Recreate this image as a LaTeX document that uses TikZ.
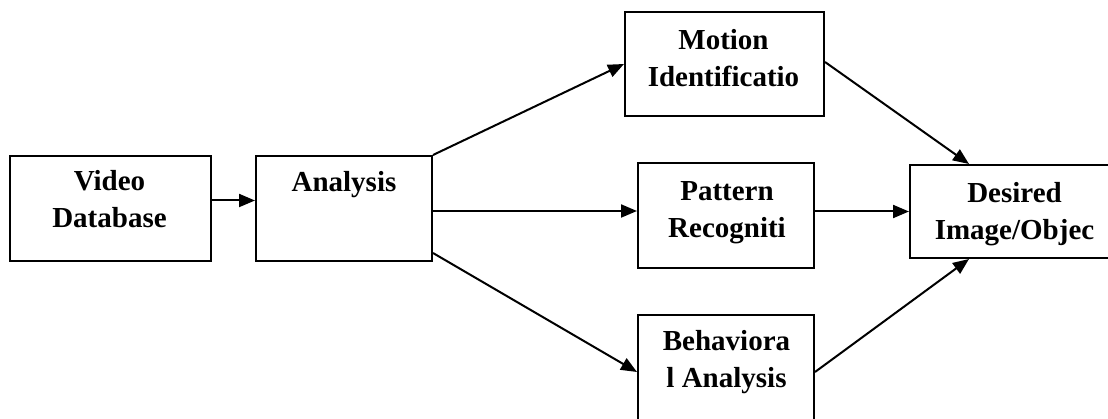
\documentclass[tikz,border=0pt]{standalone}
\usepackage{fontspec}
\setmainfont{Liberation Serif}
\usetikzlibrary{arrows.meta}
\tikzset{
  box/.style={draw, line width=2pt, rectangle, inner sep=0pt},
  lbl/.style={font=\fontsize{29}{37}\selectfont\bfseries, align=center, anchor=base, inner sep=0pt},
  arr/.style={line width=2pt, -{Triangle[length=16pt,width=13pt]}},
}
\begin{document}
\begin{tikzpicture}[x=1pt,y=-1pt]
  \clip (0,0) rectangle (1108,419);
  \fill[white] (0,0) rectangle (1108,419);

  % boxes
  \node[box, minimum width=201pt, minimum height=105pt] (vid) at (110.5,208.5) {};
  \node[box, minimum width=176pt, minimum height=105pt] (ana) at (344,208.5) {};
  \node[box, minimum width=199pt, minimum height=104pt] (mot) at (724.5,64) {};
  \node[box, minimum width=176pt, minimum height=105pt] (pat) at (726,215.5) {};
  \node[box, minimum width=176pt, minimum height=114pt] (beh) at (726,372) {};
  \node[box, minimum width=210pt, minimum height=93pt] (des) at (1015,211.5) {};

  % labels (anchored at the baseline of their last line)
  \node[lbl] (vidt) at (109.5,228) {Video\\Database};
  \node[lbl] (anat) at (344,192) {Analysis};
  \node[lbl] (mott) at (723.5,87) {Motion\\Identificatio};
  \node[lbl] (patt) at (727,238) {Pattern\\Recogniti};
  \node[lbl] (beht) at (726.5,388) {Behaviora\\l Analysis};
  \node[lbl] (dest) at (1014.5,240) {Desired\\Image/Objec};

  % connectors
  \coordinate (pin) at ([yshift=4.5pt]pat.west);
  \draw[arr] ([yshift=8pt]vid.east) -- ([yshift=8pt]ana.west);
  \draw[arr] (ana.north east) -- (mot.west);
  \draw[arr] (ana.east |- pin) -- (pin);
  \draw[arr] ([yshift=9pt]ana.south east) -- (beh.west);
  \draw[arr] ([yshift=2pt]mot.east) -- ([xshift=60pt]des.north west);
  \draw[arr] (pat.east |- des.west) -- (des.west);
  \draw[arr] (beh.east) -- ([xshift=60pt]des.south west);
\end{tikzpicture}
\end{document}
